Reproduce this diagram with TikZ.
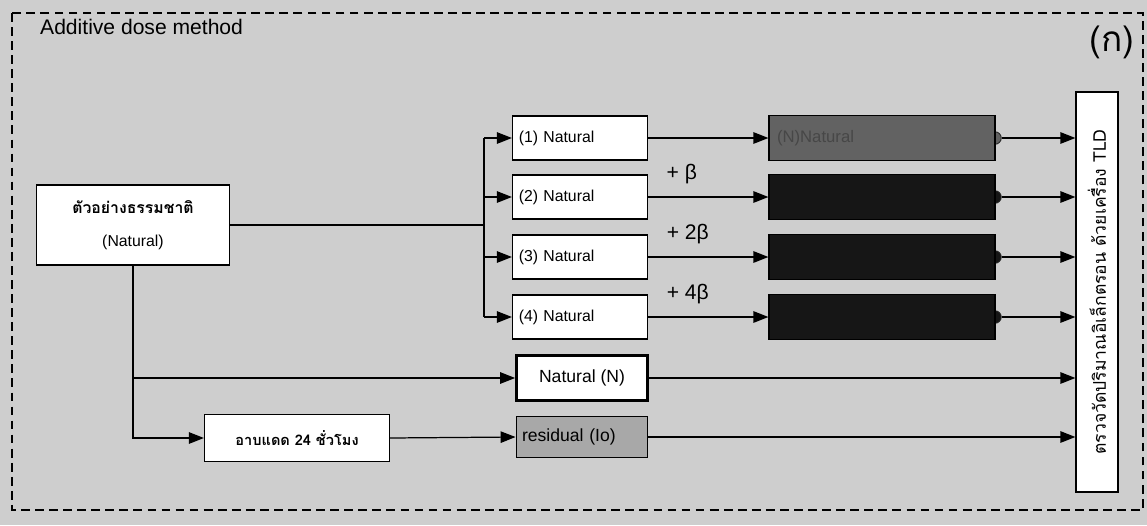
\documentclass[tikz,border=0pt]{standalone}
\usepackage{fontspec}
\setmainfont{Liberation Sans}
\newfontfamily\thaifont[Script=Thai]{Loma}
\usetikzlibrary{arrows.meta,positioning,calc}
\definecolor{hatchgray}{RGB}{206,206,206}
\definecolor{darkfill}{RGB}{22,22,22}
\definecolor{midfill}{RGB}{98,98,98}
\definecolor{residfill}{RGB}{168,168,168}

\begin{document}
\begin{tikzpicture}[x=0.02cm, y=-0.02cm,
  box/.style = {rectangle, draw=black, fill=white, line width=0.7pt,
    font=\fontsize{9}{10}\selectfont},
  natbox/.style = {box, minimum width=2.7cm, minimum height=0.88cm,
    text width=2.45cm, align=left},
  dosebox/.style = {rectangle, draw=black, line width=0.7pt,
    minimum width=4.52cm, minimum height=0.9cm},
  knob/.style = {circle, draw=black!85, line width=0.5pt, inner sep=0pt, minimum size=0.25cm},
  betalbl/.style = {font=\fontsize{12}{12}\selectfont, inner sep=1pt},
  arr/.style = {-{Triangle[length=0.3cm,width=0.23cm]}, line width=0.7pt}
]
  % background and frame
  \fill[hatchgray] (0,0) rectangle (1147,525);
  \useasboundingbox (0,0) rectangle (1147,525);
  \draw[dashed, line width=0.6pt, dash pattern=on 5pt off 3pt] (12,13) rectangle (1143,510);
  \node[anchor=west, font=\fontsize{12}{12}\selectfont] (title) at (34,27) {Additive dose method};
  \node[font=\thaifont\fontsize{20}{20}\selectfont] (tag) at (1112,42) {(ก)};

  % sample and sub-samples
  \node[box, minimum width=3.86cm, minimum height=1.6cm, align=center] (sample) at (133,225)
    {{\thaifont\bfseries ตัวอย่างธรรมชาติ}\\[9pt](Natural)};
  \node[natbox] (nat1) at (580,138) {(1) Natural};
  \node[natbox] (nat2) at (580,197) {(2) Natural};
  \node[natbox] (nat3) at (580,257) {(3) Natural};
  \node[natbox] (nat4) at (580,317) {(4) Natural};

  % dosed samples
  \node[knob, fill=midfill] (knob1) at (995,138) {};
  \foreach \y [count=\i from 2] in {197,257,317}{
    \node[knob, fill=darkfill] (knob\i) at (995,\y) {};
  }
  \node[dosebox, fill=midfill, text width=4.2cm, align=left,
    font=\fontsize{9.5}{10}\selectfont, text=black!72] (dose1) at (882,138) {(N)Natural};
  \node[dosebox, fill=darkfill] (dose2) at (882,197) {};
  \node[dosebox, fill=darkfill] (dose3) at (882,257) {};
  \node[dosebox, fill=darkfill] (dose4) at (882,317) {};

  % controls
  \node[box, minimum width=2.62cm, minimum height=0.9cm, line width=1.6pt,
    font=\fontsize{10}{10}\selectfont] (natN) at (582,378) {Natural (N)};
  \node[box, fill=residfill, minimum width=2.62cm, minimum height=0.82cm,
    text width=2.4cm, align=left, font=\fontsize{10}{10}\selectfont] (resid) at (582,437) {residual (Io)};
  \node[box, minimum width=3.7cm, minimum height=0.94cm] (sun) at (297,438)
    {\thaifont\bfseries\fontsize{8.3}{9}\selectfont อาบแดด 24 ชั่วโมง};

  % TLD reader
  \node[box, minimum width=0.84cm, minimum height=8cm] (tld) at (1097,292) {};
  \node[rotate=90, font=\thaifont\fontsize{10}{10}\selectfont] (tldtext) at (tld.center)
    {ตรวจวัดปริมาณอิเล็กตรอน ด้วยเครื่อง TLD};

  % connectors
  \coordinate (split) at (484,225);
  \draw[line width=0.7pt] (sample.east) -- (split);
  \draw[line width=0.7pt] (split |- nat1) -- (split |- nat4);
  \foreach \i in {1,...,4}{
    \draw[arr] (split |- nat\i) -- (nat\i.west);
    \draw[arr] (nat\i.east) -- (dose\i.west);
    \draw[arr] (knob\i.east) -- (tld.west |- dose\i.east);
  }
  \path (nat2.east) -- node[betalbl, pos=0.28, above=6pt] (b2) {+ β} (dose2.west);
  \path (nat3.east) -- node[betalbl, pos=0.33, above=6pt] (b3) {+ 2β} (dose3.west);
  \path (nat4.east) -- node[betalbl, pos=0.33, above=6pt] (b4) {+ 4β} (dose4.west);

  \draw[arr] (sample.south) |- (natN.west);
  \draw[arr] (natN.west -| sample.south) |- (sun.west);
  \draw[arr] (sun.east) -- (resid.west);
  \draw[arr] (natN.east) -- (tld.west |- natN.east);
  \draw[arr] (resid.east) -- (tld.west |- resid.east);
\end{tikzpicture}
\end{document}
